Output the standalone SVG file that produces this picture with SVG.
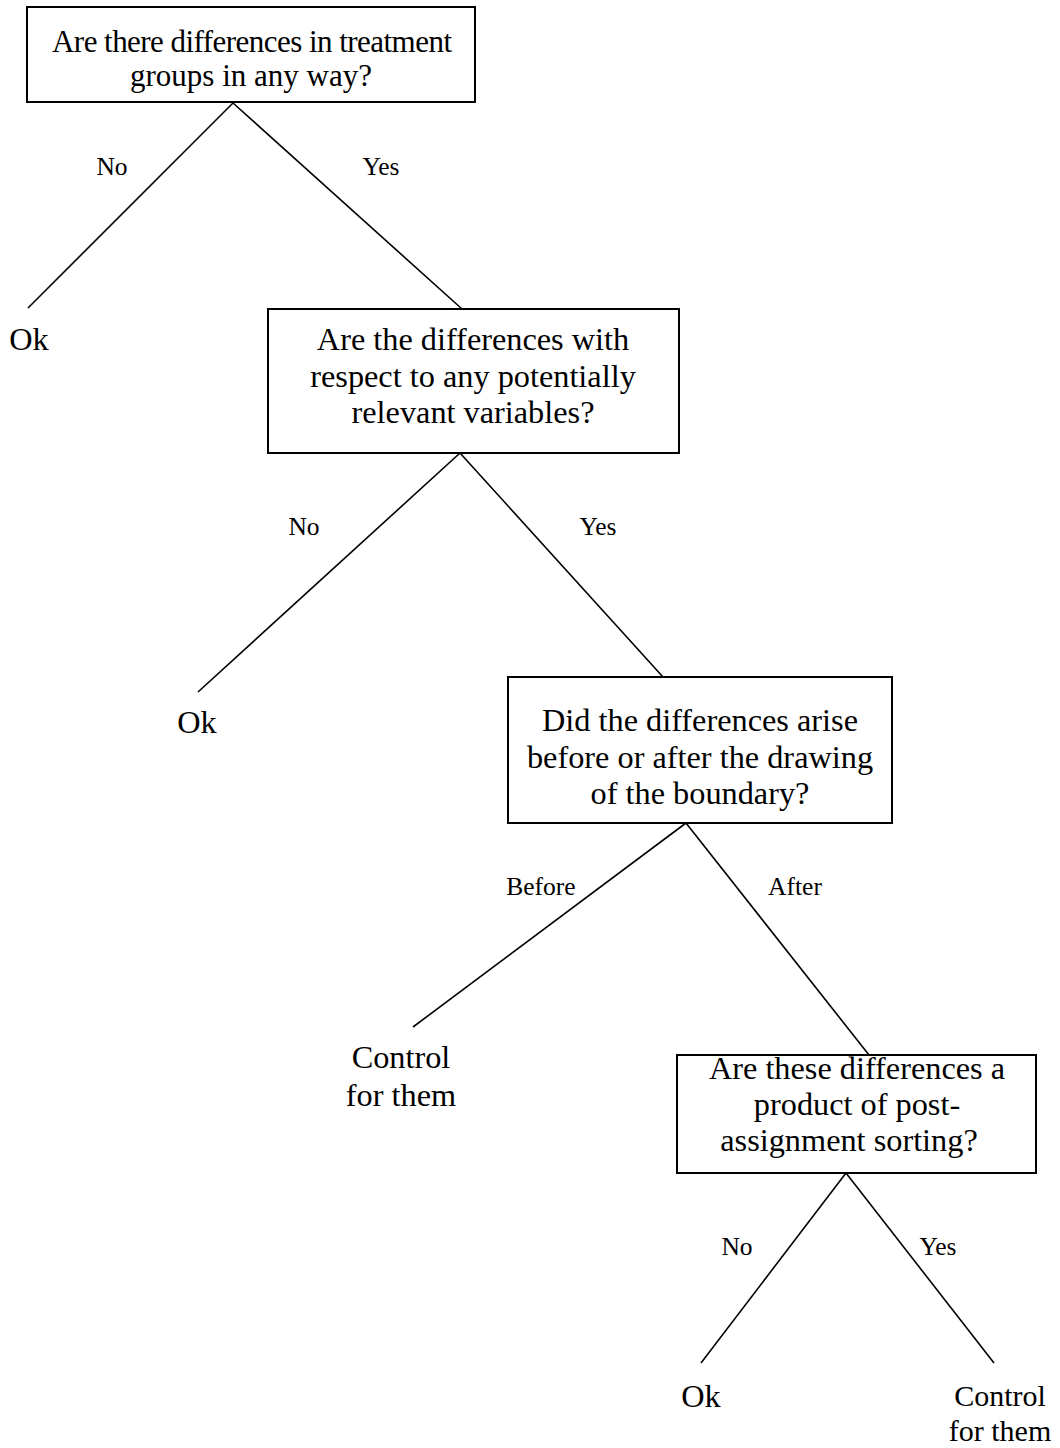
<svg xmlns="http://www.w3.org/2000/svg" width="1060" height="1448" viewBox="0 0 1060 1448">
<style>
.box{fill:#fff;stroke:#000;stroke-width:2}
.t{font-family:"Liberation Serif","Times New Roman",serif;font-size:32.3px;fill:#000;text-anchor:middle}
.t1{font-family:"Liberation Serif","Times New Roman",serif;font-size:31px;fill:#000;text-anchor:middle}
.t2{font-family:"Liberation Serif","Times New Roman",serif;font-size:30px;fill:#000;text-anchor:middle}
.lb{font-family:"Liberation Serif","Times New Roman",serif;font-size:25.5px;fill:#000;text-anchor:middle}
.c{stroke:#000;stroke-width:1.6;fill:none}
</style>
<rect width="1060" height="1448" fill="#fff"/>
<g id="connectors">
<line class="c" x1="233" y1="103" x2="28" y2="308"/>
<line class="c" x1="233" y1="103" x2="462" y2="309"/>
<line class="c" x1="460" y1="453" x2="198" y2="692"/>
<line class="c" x1="460" y1="453" x2="663" y2="677"/>
<line class="c" x1="686" y1="823" x2="413" y2="1027"/>
<line class="c" x1="686" y1="823" x2="869" y2="1055"/>
<line class="c" x1="846" y1="1173" x2="701" y2="1363"/>
<line class="c" x1="846" y1="1173" x2="994" y2="1363"/>
<text class="lb" x="112" y="175">No</text>
<text class="lb" x="381" y="175">Yes</text>
<text class="lb" x="304" y="535">No</text>
<text class="lb" x="598" y="535">Yes</text>
<text class="lb" x="541" y="895">Before</text>
<text class="lb" x="795" y="895">After</text>
<text class="lb" x="737" y="1255">No</text>
<text class="lb" x="938" y="1255">Yes</text>
</g>
<g id="q1">
<rect class="box" x="27" y="7" width="448" height="95"/>
<text class="t1" x="252" y="52" textLength="400" lengthAdjust="spacing">Are there differences in treatment</text>
<text class="t1" x="251" y="86">groups in any way?</text>
</g>
<g id="ok1"><text class="t" x="29" y="350">Ok</text></g>
<g id="q2">
<rect class="box" x="268" y="309" width="411" height="144"/>
<text class="t" x="473" y="350">Are the differences with</text>
<text class="t" x="473" y="387">respect to any potentially</text>
<text class="t" x="473" y="423">relevant variables?</text>
</g>
<g id="ok2"><text class="t" x="197" y="733">Ok</text></g>
<g id="q3">
<rect class="box" x="508" y="677" width="384" height="146"/>
<text class="t" x="700" y="731">Did the differences arise</text>
<text class="t" x="700" y="768">before or after the drawing</text>
<text class="t" x="700" y="804">of the boundary?</text>
</g>
<g id="ctrl1">
<text class="t" x="401" y="1068">Control</text>
<text class="t" x="401" y="1106">for them</text>
</g>
<g id="q4">
<rect class="box" x="677" y="1055" width="359" height="118"/>
<text class="t" x="857" y="1079">Are these differences a</text>
<text class="t" x="857" y="1115">product of post-</text>
<text class="t" x="849" y="1151">assignment sorting?</text>
</g>
<g id="ok3"><text class="t" x="701" y="1407">Ok</text></g>
<g id="ctrl2">
<text class="t2" x="1000" y="1406">Control</text>
<text class="t2" x="1000" y="1441">for them</text>
</g>
</svg>
